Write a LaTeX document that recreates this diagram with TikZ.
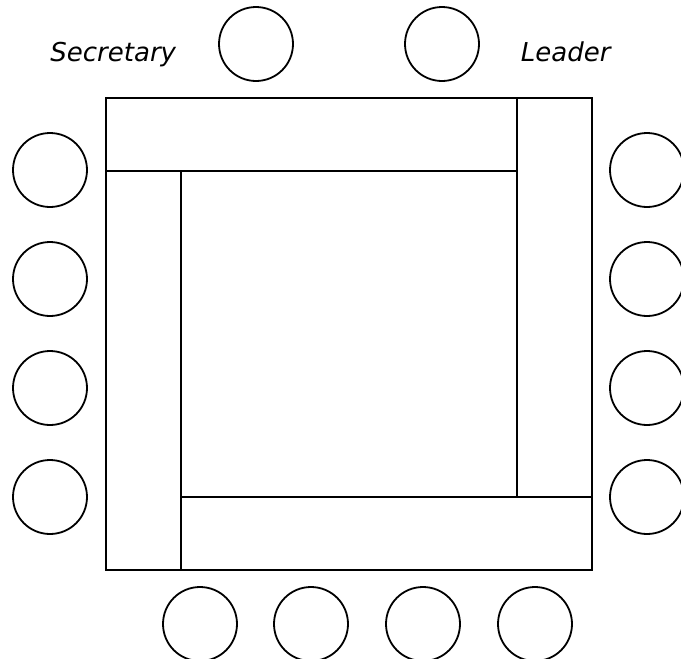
\documentclass[tikz,border=0pt]{standalone}
\usepackage{fontspec}
\usepackage{tikz}
\newfontfamily\verdanalike{DejaVu Sans}
\tikzset{every node/.append style={font=\verdanalike\itshape\fontsize{26}{30}\selectfont}}
\tikzset{chair/.style={draw, circle, minimum size=74pt, inner sep=0pt}}

\begin{document}
\begin{tikzpicture}[x=1pt, y=-1pt, line width=1.8pt]
    \useasboundingbox (0,0) rectangle (681,659);
    % four tables round the middle
    \draw (106,98) rectangle (517,171);
    \draw (517,98) rectangle (592,497);
    \draw (181,497) rectangle (592,570);
    \draw (106,171) rectangle (181,570);
    % chairs at the sides
    \foreach \y [count=\i] in {170,279,388,497} {
        \node[chair] (left\i) at (50,\y) {};
        \node[chair] (right\i) at (647,\y) {};
    }
    \foreach \x [count=\i] in {200,311,423,535}
        \node[chair] (bottom\i) at (\x,624) {};
    \node[chair] (secretary) at (256,44) {};
    \node[chair] (leader) at (442,44) {};
    \node[anchor=base east, inner sep=0pt] (seclabel) at (177,61.5) {Secretary};
    \node[anchor=base west, inner sep=0pt] (leadlabel) at (520,61) {Leader};
\end{tikzpicture}
\end{document}
